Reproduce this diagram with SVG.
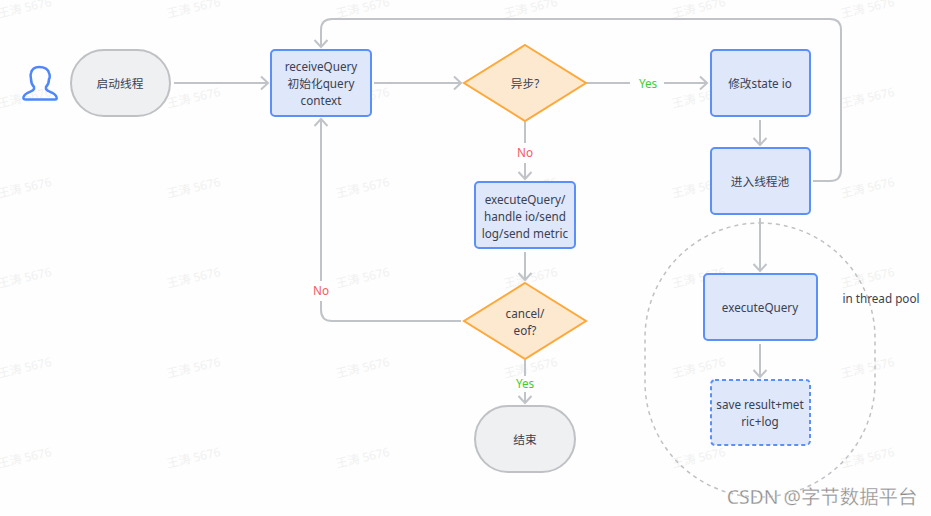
<svg xmlns="http://www.w3.org/2000/svg" width="931" height="516" viewBox="0 0 931 516">
<style>
text{font-family:"Noto Sans","Noto Sans CJK SC",sans-serif;font-size:11.700px;fill:#3a4150;text-anchor:middle}
.wm{font-size:12px;fill:#f1f1f1;text-anchor:start}
.box{fill:#dfe7fb;stroke:#5b8ff9;stroke-width:2}
.term{fill:#eff0f1;stroke:#bfc1c5;stroke-width:2}
.dia{fill:#fde9cf;stroke:#fda83a;stroke-width:2}
.edge{fill:none;stroke:#c0c3c8;stroke-width:2}
.arr{marker-end:url(#a)}
.no{fill:#f25c5c}.yes{fill:#3fce2f}
</style>
<defs><marker id="a" markerUnits="userSpaceOnUse" markerWidth="14" markerHeight="16" refX="10" refY="8" orient="auto"><path d="M3 1.5 L10 8 L3 14.500" fill="none" stroke="#c0c3c8" stroke-width="2"/></marker></defs>
<rect width="931" height="516" fill="#fefefe"/>
<g id="watermarks">
<text class="wm" transform="translate(-1 18) rotate(-13)">王涛 5676</text><text class="wm" transform="translate(168 18) rotate(-13)">王涛 5676</text><text class="wm" transform="translate(337 18) rotate(-13)">王涛 5676</text><text class="wm" transform="translate(505 18) rotate(-13)">王涛 5676</text><text class="wm" transform="translate(673 18) rotate(-13)">王涛 5676</text><text class="wm" transform="translate(842 18) rotate(-13)">王涛 5676</text>
<text class="wm" transform="translate(-1 108) rotate(-13)">王涛 5676</text><text class="wm" transform="translate(168 108) rotate(-13)">王涛 5676</text><text class="wm" transform="translate(337 108) rotate(-13)">王涛 5676</text><text class="wm" transform="translate(505 108) rotate(-13)">王涛 5676</text><text class="wm" transform="translate(673 108) rotate(-13)">王涛 5676</text><text class="wm" transform="translate(842 108) rotate(-13)">王涛 5676</text>
<text class="wm" transform="translate(-1 198) rotate(-13)">王涛 5676</text><text class="wm" transform="translate(168 198) rotate(-13)">王涛 5676</text><text class="wm" transform="translate(337 198) rotate(-13)">王涛 5676</text><text class="wm" transform="translate(505 198) rotate(-13)">王涛 5676</text><text class="wm" transform="translate(673 198) rotate(-13)">王涛 5676</text><text class="wm" transform="translate(842 198) rotate(-13)">王涛 5676</text>
<text class="wm" transform="translate(-1 288) rotate(-13)">王涛 5676</text><text class="wm" transform="translate(168 288) rotate(-13)">王涛 5676</text><text class="wm" transform="translate(337 288) rotate(-13)">王涛 5676</text><text class="wm" transform="translate(505 288) rotate(-13)">王涛 5676</text><text class="wm" transform="translate(673 288) rotate(-13)">王涛 5676</text><text class="wm" transform="translate(842 288) rotate(-13)">王涛 5676</text>
<text class="wm" transform="translate(-1 378) rotate(-13)">王涛 5676</text><text class="wm" transform="translate(168 378) rotate(-13)">王涛 5676</text><text class="wm" transform="translate(337 378) rotate(-13)">王涛 5676</text><text class="wm" transform="translate(505 378) rotate(-13)">王涛 5676</text><text class="wm" transform="translate(673 378) rotate(-13)">王涛 5676</text><text class="wm" transform="translate(842 378) rotate(-13)">王涛 5676</text>
<text class="wm" transform="translate(-1 468) rotate(-13)">王涛 5676</text><text class="wm" transform="translate(168 468) rotate(-13)">王涛 5676</text><text class="wm" transform="translate(337 468) rotate(-13)">王涛 5676</text><text class="wm" transform="translate(505 468) rotate(-13)">王涛 5676</text><text class="wm" transform="translate(673 468) rotate(-13)">王涛 5676</text><text class="wm" transform="translate(842 468) rotate(-13)">王涛 5676</text>
</g>
<g id="pool"><rect x="645" y="223" width="230" height="274" rx="115" fill="none" stroke="#bfc1c5" stroke-width="1.500" stroke-dasharray="4 4"/><text x="881" y="303">in thread pool</text></g>
<g id="connectors">
<path class="edge arr" d="M174 83H268"/>
<path class="edge arr" d="M374 83H461"/>
<path class="edge" d="M586 83H630"/><path class="edge arr" d="M664 83H707"/>
<path class="edge" d="M525 122V143"/><path class="edge arr" d="M525 163V179"/>
<path class="edge arr" d="M525 252V280"/>
<path class="edge" d="M525 360V376"/><path class="edge arr" d="M525 392V403"/>
<path class="edge" d="M461 321H332Q321 321 321 310V301"/><path class="edge arr" d="M321 281V119"/>
<path class="edge arr" d="M813 181H830Q841 181 841 170V30Q841 19 830 19H332Q321 19 321 30V47"/>
<path class="edge arr" d="M760 120V145"/>
<path class="edge arr" d="M760 218V271"/>
<path class="edge arr" d="M760 344V377"/>
<text class="yes" x="648" y="88">Yes</text>
<text class="no" x="525" y="157">No</text>
<text class="yes" x="525" y="388">Yes</text>
<text class="no" x="321" y="295">No</text>
</g>
<g id="user"><path d="M39 67C35 67 32 69 31 73C30 75 31 78 31 79C31 82 32 85 34 87V89C33 92 25 92 23.500 97C23 99 24 99.500 26 99.500H55C56.500 99.500 57 99 56.500 97C55 92 47 92 46 89V87C48 85 49 82 49 79C50 78 50 75 49 73C48 69 44 67 39 67Z" fill="none" stroke="#4f87fb" stroke-width="2.500" stroke-linejoin="round"/></g>
<g id="start"><rect class="term" x="71" y="50" width="99" height="66" rx="33"/><text x="120" y="88">启动线程</text></g>
<g id="receive"><rect class="box" x="271" y="50" width="100" height="66" rx="4"/><text x="321" y="71">receiveQuery</text><text x="321" y="88">初始化query</text><text x="321" y="105">context</text></g>
<g id="async"><path class="dia" d="M525 45L586 83L525 121L464 83Z"/><text x="525" y="88">异步?</text></g>
<g id="modify"><rect class="box" x="711" y="50" width="99" height="66" rx="4"/><text x="760" y="88">修改state io</text></g>
<g id="threadpool"><rect class="box" x="711" y="148" width="99" height="66" rx="4"/><text x="760" y="186">进入线程池</text></g>
<g id="exec"><rect class="box" x="475" y="182" width="100" height="66" rx="4"/><text x="525" y="204">executeQuery/</text><text x="525" y="221">handle io/send</text><text x="525" y="238">log/send metric</text></g>
<g id="cancel"><path class="dia" d="M525 283L586 321L525 359L464 321Z"/><text x="525" y="318">cancel/</text><text x="525" y="335">eof?</text></g>
<g id="end"><rect class="term" x="475" y="406" width="100" height="66" rx="33"/><text x="525" y="444">结束</text></g>
<g id="execq"><rect class="box" x="704" y="274" width="113" height="66" rx="4"/><text x="760" y="312">executeQuery</text></g>
<g id="save"><rect class="box" x="711" y="380" width="99" height="65" rx="4" stroke-dasharray="4 3"/><text x="760" y="409">save result+met</text><text x="760" y="426">ric+log</text></g>
<text x="822" y="504" style="font-size:19.400px;fill:#8b8b8b;stroke:#fff;stroke-width:.3">CSDN @字节数据平台</text>
</svg>
